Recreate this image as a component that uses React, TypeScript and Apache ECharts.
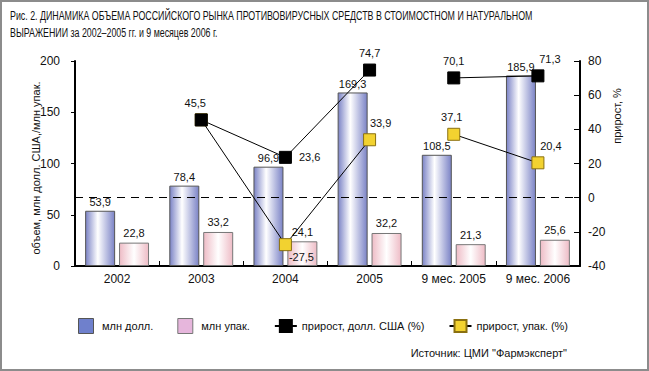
import React, { useEffect, useRef } from "react";
import * as echarts from "echarts";

const categories = ["2002", "2003", "2004", "2005", "9 мес. 2005", "9 мес. 2006"];
const usdMln = [53.9, 78.4, 96.9, 169.3, 108.5, 185.9];
const packsMln = [22.8, 33.2, 24.1, 32.2, 21.3, 25.6];
const usdGrowth = [null, 45.5, 23.6, 74.7, 70.1, 71.3];
const packsGrowth = [null, 45.6, -27.5, 33.9, 37.1, 20.4];
const leftTicks = { min: 0, max: 200, interval: 50 };
const rightTicks = { min: -40, max: 80, interval: 20 };

const TITLE1 = "Рис. 2. ДИНАМИКА ОБЪЕМА РОССИЙСКОГО РЫНКА ПРОТИВОВИРУСНЫХ СРЕДСТВ В СТОИМОСТНОМ И НАТУРАЛЬНОМ";
const TITLE2 = "ВЫРАЖЕНИИ за 2002–2005 гг. и 9 месяцев 2006 г.";

const FONT = "'Liberation Sans', Arial, sans-serif";

const fmt = (v: number) => String(v).replace(".", ",");

// label placements for line points (style, not data)
const usdLabelPos: any[] = [
  null,
  { position: "top", offset: [-6, 0] },
  { position: "right", offset: [2, 0] },
  { position: "top", offset: [0, 0] },
  { position: "top", offset: [0, 0] },
  { position: "top", offset: [12, 0] },
];
const packsLabelPos: any[] = [
  null,
  null,
  { position: "bottom", offset: [16, -5] },
  { position: "top", offset: [11, 0] },
  { position: "top", offset: [-2, 0] },
  { position: "top", offset: [13, 0] },
];

function segment(arr: (number | null)[], from: number, to: number, pos: any[]) {
  return arr.map((v, i) => {
    if (i < from || i > to || v == null) return null;
    const p = pos[i];
    return {
      value: v,
      label: p ? { show: true, position: p.position, offset: p.offset } : { show: false },
    };
  });
}

function measure(text: string, size: number) {
  const c = document.createElement("canvas");
  const ctx = c.getContext("2d")!;
  ctx.font = `${size}px 'Liberation Sans', Arial, sans-serif`;
  return ctx.measureText(text).width;
}

export default function App() {
  const ref = useRef<HTMLDivElement>(null);
  useEffect(() => {
    document.body.style.margin = "0";
    const chart = echarts.init(ref.current!, null, { renderer: "svg" });
    const titleScale = 523 / measure(TITLE1, 12);
    const blueGrad = new echarts.graphic.LinearGradient(0, 0, 1, 0, [
      { offset: 0, color: "#7b83c6" },
      { offset: 0.42, color: "#ffffff" },
      { offset: 1, color: "#7b83c6" },
    ]);
    const pinkGrad = new echarts.graphic.LinearGradient(0, 0, 1, 0, [
      { offset: 0, color: "#eebcc6" },
      { offset: 0.5, color: "#ffffff" },
      { offset: 1, color: "#eebcc6" },
    ]);
    const lineLabel = {
      show: true,
      fontFamily: FONT,
      fontSize: 11,
      color: "#111",
      formatter: (p: any) => fmt(p.value),
    };
    const blackMarker = {
      symbol: "rect",
      symbolSize: 12,
      itemStyle: { color: "#000", borderColor: "#000", borderWidth: 1 },
      lineStyle: { color: "#000", width: 1 },
    };
    const yellowMarker = {
      symbol: "rect",
      symbolSize: 12,
      itemStyle: { color: "#f2d230", borderColor: "#8a7010", borderWidth: 1 },
      lineStyle: { color: "#000", width: 1 },
    };
    const option: any = {
      animation: false,
      textStyle: { fontFamily: FONT },
      grid: { left: 75, right: 69, top: 61, bottom: 105 },
      legend: {
        left: 73,
        top: 313,
        itemGap: 24,
        itemWidth: 22,
        itemHeight: 15,
        textStyle: { fontFamily: FONT, fontSize: 11, color: "#111" },
        data: [
          {
            name: "млн долл.",
            icon: "path://M0,0h15v15h-15z",
            itemStyle: { color: "#6f80cc", borderColor: "#555", borderWidth: 1 },
          },
          {
            name: "млн упак.",
            icon: "path://M0,0h15v15h-15z",
            itemStyle: { color: "#e6b6dc", borderColor: "#777", borderWidth: 1 },
          },
          { name: "прирост, долл. США (%)" },
          { name: "прирост, упак. (%)" },
        ],
      },
      graphic: [
        {
          type: "rect",
          shape: { x: 1, y: 1, width: 647, height: 369 },
          style: { fill: "none", stroke: "#8c8c8c", lineWidth: 2 },
        },
        {
          type: "text",
          x: 10,
          y: 15,
          scaleX: titleScale,
          style: { text: TITLE1, fontFamily: FONT, fontSize: 12, fill: "#111", verticalAlign: "middle" },
        },
        {
          type: "text",
          x: 10,
          y: 32,
          scaleX: titleScale,
          style: { text: TITLE2, fontFamily: FONT, fontSize: 12, fill: "#111", verticalAlign: "middle" },
        },
        {
          type: "text",
          x: 36,
          y: 168,
          rotation: Math.PI / 2,
          style: {
            text: "объем, млн долл. США,/млн упак.",
            fontFamily: FONT,
            fontSize: 11,
            fill: "#111",
            align: "center",
            verticalAlign: "middle",
          },
        },
        {
          type: "text",
          x: 617,
          y: 116,
          rotation: Math.PI / 2,
          style: {
            text: "прирост, %",
            fontFamily: FONT,
            fontSize: 11,
            fill: "#111",
            align: "center",
            verticalAlign: "middle",
          },
        },
        {
          type: "text",
          right: 82,
          top: 347,
          style: {
            text: "Источник: ЦМИ \"Фармэксперт\"",
            fontFamily: FONT,
            fontSize: 11,
            fill: "#111",
          },
        },
      ],
      xAxis: {
        type: "category",
        data: categories,
        boundaryGap: true,
        axisLine: { lineStyle: { color: "#000", width: 2 } },
        axisTick: { show: true, inside: true, length: 5, lineStyle: { color: "#000" } },
        axisLabel: { color: "#111", fontSize: 12, margin: 7, fontFamily: FONT },
      },
      yAxis: [
        {
          type: "value",
          ...leftTicks,
          splitLine: { show: false },
          axisLine: { show: true, lineStyle: { color: "#000", width: 2 } },
          axisTick: { show: true, length: 4, lineStyle: { color: "#000" } },
          axisLabel: { color: "#111", fontSize: 12, margin: 15, fontFamily: FONT },
        },
        {
          type: "value",
          ...rightTicks,
          position: "right",
          splitLine: { show: false },
          axisLine: { show: true, lineStyle: { color: "#000", width: 2 } },
          axisTick: { show: true, inside: true, length: 6, lineStyle: { color: "#000" } },
          axisLabel: { color: "#111", fontSize: 12, margin: 8, fontFamily: FONT },
        },
      ],
      series: [
        {
          name: "млн долл.",
          type: "bar",
          data: usdMln,
          barWidth: 30,
          barGap: "13%",
          itemStyle: { color: blueGrad, borderColor: "#555", borderWidth: 1 },
          label: {
            show: true,
            position: "top",
            distance: 3,
            fontFamily: FONT,
            fontSize: 11,
            color: "#111",
            formatter: (p: any) => fmt(p.value),
          },
        },
        {
          name: "млн упак.",
          type: "bar",
          data: packsMln,
          barWidth: 30,
          itemStyle: { color: pinkGrad, borderColor: "#777", borderWidth: 1 },
          label: {
            show: true,
            position: "top",
            distance: 4,
            fontFamily: FONT,
            fontSize: 11,
            color: "#111",
            formatter: (p: any) => fmt(p.value),
          },
        },
        {
          name: "прирост, упак. (%)",
          type: "line",
          yAxisIndex: 1,
          data: segment(packsGrowth, 1, 3, packsLabelPos),
          ...yellowMarker,
          label: lineLabel,
          markLine: {
            silent: true,
            symbol: "none",
            label: { show: false },
            lineStyle: { color: "#000", type: [8, 6], width: 1 },
            data: [{ yAxis: 0 }],
          },
        },
        {
          name: "прирост, упак. (%)",
          type: "line",
          yAxisIndex: 1,
          data: segment(packsGrowth, 4, 5, packsLabelPos),
          ...yellowMarker,
          label: lineLabel,
        },
        {
          name: "прирост, долл. США (%)",
          type: "line",
          yAxisIndex: 1,
          data: segment(usdGrowth, 1, 3, usdLabelPos),
          ...blackMarker,
          label: lineLabel,
        },
        {
          name: "прирост, долл. США (%)",
          type: "line",
          yAxisIndex: 1,
          data: segment(usdGrowth, 4, 5, usdLabelPos),
          ...blackMarker,
          label: lineLabel,
        },
      ],
    };
    chart.setOption(option);
    return () => chart.dispose();
  }, []);
  return (
    <div
      ref={ref}
      style={{ position: "absolute", left: 0, top: 0, width: 649, height: 371, background: "#fff" }}
    />
  );
}
